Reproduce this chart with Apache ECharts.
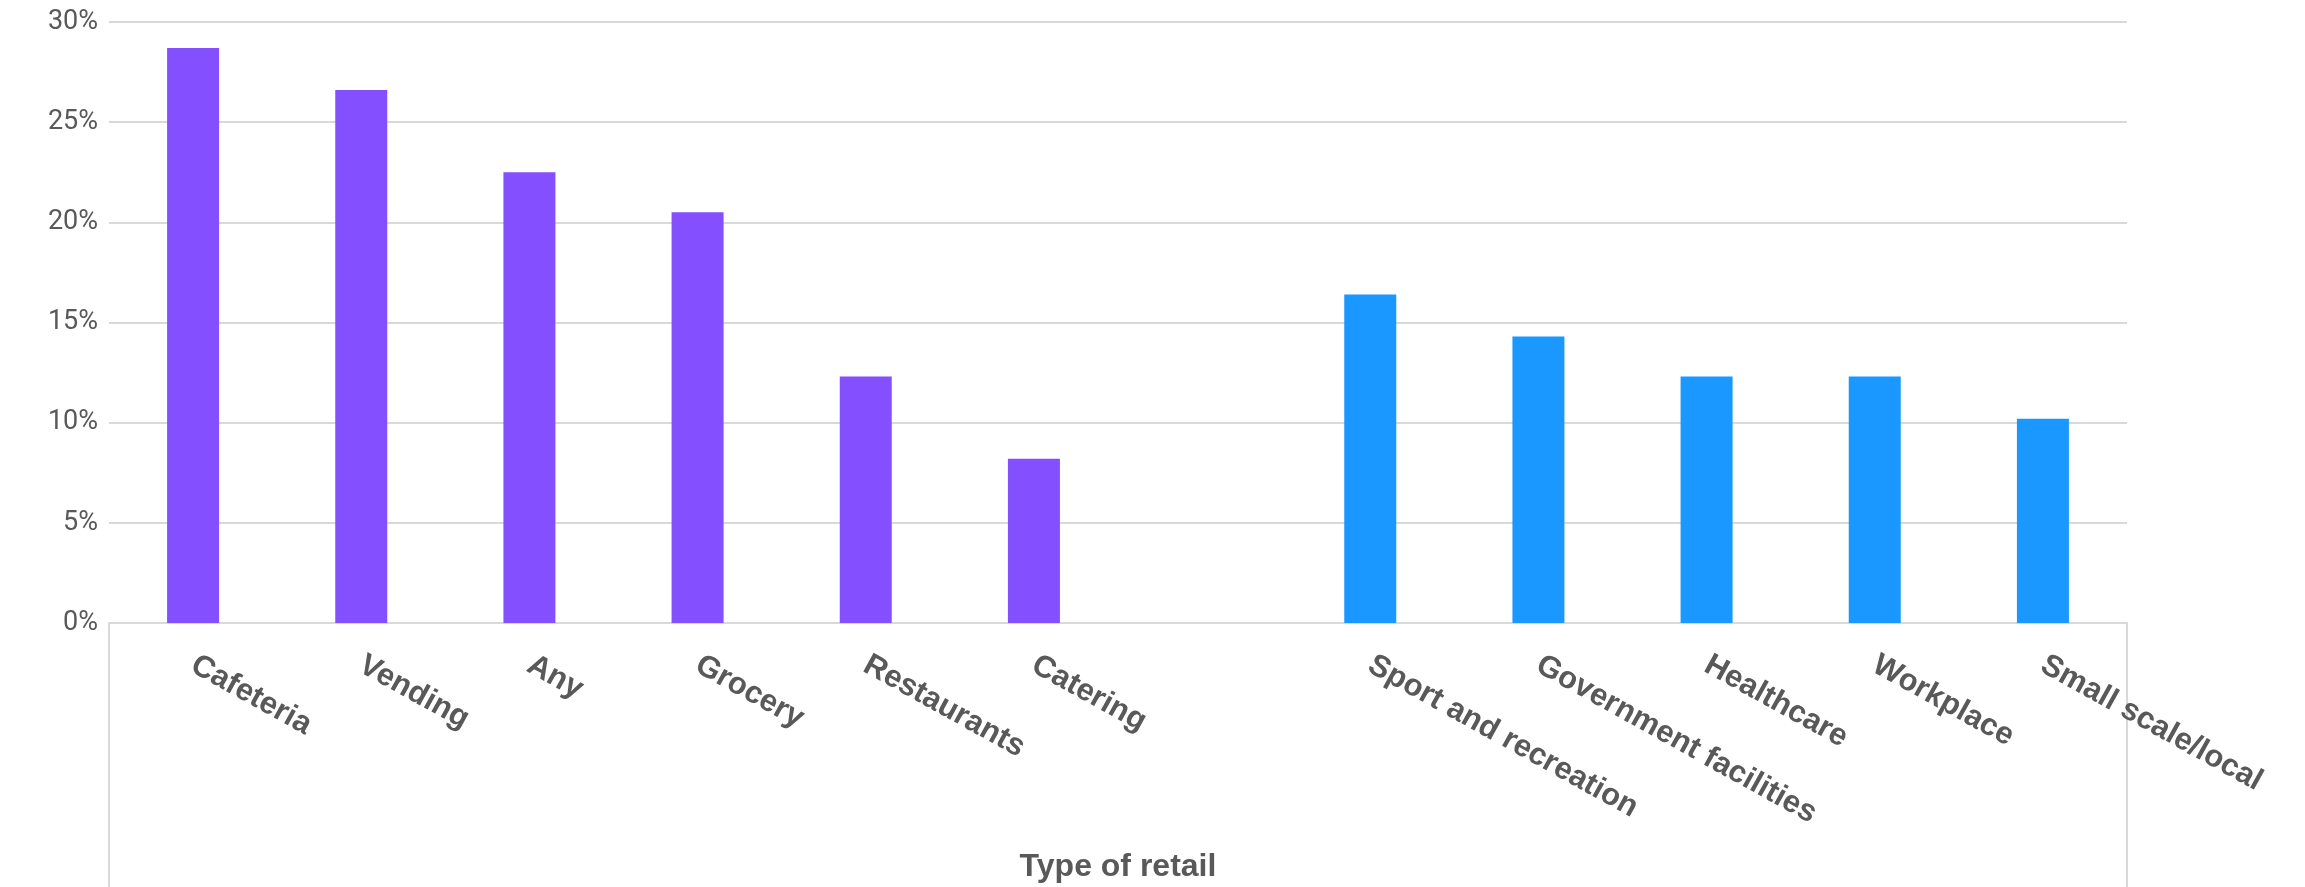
<!DOCTYPE html>
<html>
<head>
<meta charset="utf-8">
<script src="https://cdn.jsdelivr.net/npm/echarts@6/dist/echarts.min.js"></script>
<style>
  html, body { margin: 0; padding: 0; background: #fff; }
  #chart { width: 2305px; height: 887px; }
</style>
</head>
<body>
<div id="chart"></div>
<script>
// retail types, two groups with a gap between them
var groupA = ["Cafeteria", "Vending", "Any", "Grocery", "Restaurants", "Catering"];
var groupB = ["Sport and recreation", "Government facilities", "Healthcare", "Workplace", "Small scale/local"];
var valuesA = [28.7, 26.6, 22.5, 20.5, 12.3, 8.2];
var valuesB = [16.4, 14.3, 12.3, 12.3, 10.2];
var yTicks = [0, 5, 10, 15, 20, 25, 30];

var categories = groupA.concat([""], groupB);
var dataA = valuesA.concat(groupB.map(function () { return null; }), [null]);
var dataB = groupA.map(function () { return null; }).concat([null], valuesB);

var textColor = "#595959";
var lineColor = "#d9d9d9";

var chart = echarts.init(document.getElementById("chart"));
chart.setOption({
  animation: false,
  grid: { left: 109, right: 178, top: 22, bottom: 264, containLabel: false, outerBoundsMode: "none" },
  xAxis: {
    type: "category",
    data: categories,
    name: "Type of retail",
    nameLocation: "middle",
    nameGap: 228,
    nameTextStyle: { color: textColor, fontSize: 32, fontWeight: "bold", fontFamily: "Liberation Sans" },
    axisLine: { lineStyle: { color: lineColor, width: 2 } },
    axisTick: {
      show: true,
      length: 264,
      interval: function (index) { return index === 0; },
      lineStyle: { color: lineColor, width: 2 }
    },
    axisLabel: {
      interval: 0,
      rotate: -29,
      margin: 40,
      color: textColor,
      fontSize: 31,
      fontWeight: "bold",
      fontFamily: "Liberation Sans"
    }
  },
  yAxis: {
    type: "value",
    min: yTicks[0],
    max: yTicks[yTicks.length - 1],
    interval: 5,
    axisLine: { show: false },
    axisTick: { show: false },
    splitLine: { lineStyle: { color: lineColor, width: 2 } },
    axisLabel: {
      margin: 11,
      color: textColor,
      fontSize: 27,
      fontFamily: "Roboto",
      formatter: "{value}%"
    }
  },
  series: [
    {
      type: "bar",
      data: dataA,
      barWidth: 52,
      barGap: "-100%",
      itemStyle: { color: "#834fff" }
    },
    {
      type: "bar",
      data: dataB,
      barWidth: 52,
      barGap: "-100%",
      itemStyle: { color: "#1b98ff" }
    }
  ]
});
</script>
</body>
</html>
